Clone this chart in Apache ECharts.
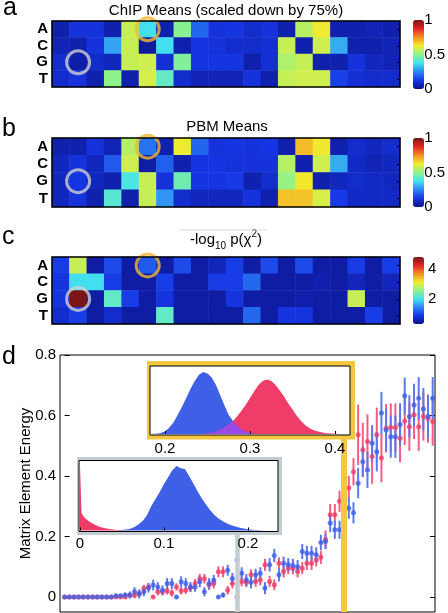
<!DOCTYPE html>
<html><head><meta charset="utf-8">
<script src="https://cdn.jsdelivr.net/npm/echarts@6/dist/echarts.min.js"></script>
<style>html,body{margin:0;padding:0;background:#fff}#c{width:448px;height:613px}</style>
</head><body><div id="c"></div>
<script>
const FONT = '"Liberation Sans", Arial, Helvetica, sans-serif';
// ---------- heatmap data (rows A, C, G, T ; 20 positions) ----------
const bases = ['A', 'C', 'G', 'T'];
const positions = ['1','2','3','4','5','6','7','8','9','10','11','12','13','14','15','16','17','18','19','20'];
const chipMeans = [
  [0.05,0.11,0.11,0.05,0.57,0.37,0.05,0.49,0.20,0.11,0.12,0.09,0.11,0.05,0.55,0.62,0.05,0.05,0.06,0.05],
  [0.06,0.05,0.11,0.29,0.57,0.03,0.37,0.05,0.12,0.11,0.09,0.09,0.10,0.57,0.05,0.58,0.30,0.05,0.05,0.06],
  [0.09,0.04,0.09,0.07,0.57,0.58,0.10,0.48,0.12,0.12,0.12,0.05,0.10,0.54,0.57,0.05,0.05,0.11,0.07,0.06],
  [0.09,0.11,0.05,0.50,0.05,0.59,0.43,0.09,0.06,0.06,0.06,0.11,0.05,0.57,0.58,0.58,0.14,0.10,0.09,0.09]
];
const pbmMeans = [
  [0.05,0.05,0.11,0.06,0.55,0.22,0.05,0.62,0.20,0.11,0.12,0.11,0.12,0.05,0.69,0.63,0.05,0.09,0.07,0.09],
  [0.07,0.11,0.07,0.18,0.58,0.04,0.19,0.05,0.12,0.12,0.11,0.11,0.11,0.55,0.05,0.58,0.30,0.08,0.06,0.07],
  [0.07,0.12,0.07,0.05,0.39,0.57,0.11,0.45,0.12,0.12,0.13,0.05,0.09,0.51,0.63,0.05,0.07,0.09,0.08,0.07],
  [0.07,0.11,0.05,0.41,0.05,0.57,0.27,0.09,0.07,0.07,0.07,0.11,0.05,0.68,0.68,0.59,0.13,0.08,0.08,0.08]
];
const chiSqLogP = [
  [0.90,2.85,0.45,1.00,0.45,1.10,0.45,1.00,0.45,0.60,0.90,0.45,1.00,0.45,1.00,0.45,0.45,0.90,0.45,0.90],
  [0.80,1.95,1.95,0.90,0.45,0.45,0.90,0.45,0.45,0.90,0.90,1.20,0.45,0.45,0.45,0.50,0.45,0.60,0.45,0.60],
  [0.80,4.77,0.45,2.20,0.90,0.45,0.80,0.45,0.45,0.45,0.80,0.45,0.45,0.45,0.50,0.45,0.45,2.85,0.45,0.45],
  [0.70,0.90,0.45,0.70,0.45,0.45,2.20,0.45,0.45,0.45,0.45,1.20,0.45,0.80,0.80,0.45,0.45,0.45,0.90,0.45]
];
const chiRange = [0.29, 4.77];
const meansTicks = [0, 0.5, 1];
const chiTicks = [2, 4];
const circleOrange = [5, 'A'];   // [position index, base]
const circleGray = [1, 'G'];

// ---------- panel d: matrix element energies (80 elements, sorted) ----------
const pbmEnergy = [0,0,0,0,0,0,0,0,0,0,0,0.004,0.004,0.006,0.006,0.017,0.010,0.017,0.030,0.039,
  0.033,0.022,0.044,0.044,0,0.050,0.044,0.033,0.033,0.050,0.017,0.044,0.055,0,0.006,0.088,0.061,0.122,0.078,0.056,
  0.048,0.073,0.078,0.029,0.106,0.137,0.073,0.111,0.106,0.104,0.100,0.150,0.144,0.144,0.139,0.180,0.183,0.244,0.222,0.222,
  0.250,0.293,0.278,0.376,0.447,0.420,0.508,0.480,0.608,0.552,0.530,0.530,0.570,0.665,0.597,0.635,0.657,0.621,0.597,0.657];
const pbmErr = [0,0,0,0,0,0,0,0,0,0,0,0.005,0.005,0.008,0.012,0.015,0.015,0.015,0.016,0.018,
  0.016,0.016,0.018,0.018,0.005,0.018,0.018,0.016,0.016,0.018,0.015,0.018,0.018,0.005,0.008,0.018,0.018,0.022,0.020,0.020,
  0.020,0.020,0.020,0.020,0.022,0.022,0.022,0.022,0.022,0.022,0.022,0.025,0.025,0.025,0.025,0.025,0.025,0.030,0.030,0.030,
  0.030,0.035,0.035,0.050,0.050,0.060,0.060,0.065,0.070,0.070,0.070,0.070,0.070,0.060,0.070,0.070,0.070,0.070,0.070,0.070];
const chipEnergy = [0,0,0,0,0,0,0,0,0,0,0,0,0,0,0.005,0.005,0.011,0.028,0.033,0,
  0.017,0.017,0.020,0.013,0.033,0.020,0.022,0.030,0.044,0.060,0.060,0.039,0.044,0.083,0.083,0.022,0.044,0,0.051,0.048,
  0.073,0.051,0.056,0.106,0.051,0.040,0.111,0.084,0.095,0.095,0.084,0.095,0.111,0.111,0.122,0.131,0.190,0.272,0.272,0.316,
  0.321,0.360,0.414,0.536,0.486,0.514,0.464,0.536,0.459,0.558,0.560,0.560,0.525,0.582,0.563,0.602,0.563,0.597,0.590,0.580];
const chipErr = [0,0,0,0,0,0,0,0,0,0,0,0,0,0.005,0.008,0.010,0.012,0.012,0.012,0.005,
  0.012,0.012,0.012,0.012,0.012,0.012,0.012,0.014,0.015,0.016,0.016,0.016,0.016,0.018,0.018,0.014,0.016,0.005,0.016,0.016,
  0.018,0.018,0.018,0.020,0.018,0.018,0.020,0.020,0.020,0.020,0.020,0.020,0.022,0.022,0.022,0.022,0.030,0.035,0.035,0.035,
  0.035,0.040,0.045,0.100,0.090,0.090,0.090,0.090,0.080,0.080,0.080,0.080,0.080,0.080,0.080,0.080,0.080,0.080,0.080,0.080];
const energyTicks = [0, 0.2, 0.4, 0.6, 0.8];
const grayIndex = 37;    // element circled in gray (G at position 2)
const yellowIndex = 60;  // element circled in orange (A at position 6)

// ---------- inset histograms ----------
const topBins = [0.185,0.19,0.195,0.2,0.205,0.21,0.215,0.22,0.225,0.23,0.235,0.24,0.245,0.25,0.255,0.26,0.265,0.27,0.275,0.28,
  0.285,0.29,0.295,0.3,0.305,0.31,0.315,0.32,0.325,0.33,0.335,0.34,0.345,0.35,0.355,0.36,0.365,0.37,0.375,0.38,
  0.385,0.39,0.395,0.4,0.405,0.41];
const topBlue = [0.2,0.5,1.5,4,9,17,28,40,53,66,78,87,91,89,83,72,57,42,28,19,
  12,7,3.5,1.5,0.5,0,0,0,0,0,0,0,0,0,0,0,0,0,0,0,0,0,0,0,0,0];
const topRed = [0,0,0,0,0,0,0,0,0,0,0,0,0,1,2,3.5,6,10,14,19,
  26,34,43,53,63,72,78,80,78,72,64,55,45,36,27,19,13,8.5,5.5,3.5,2,1.2,0.6,0.3,0.1,0];
const topOverlap = [0,0,0,0,0,0,0,0,0,0,0,0,0,1,2,3.5,6,10,14,19,
  12,7,3.5,1.5,0.5,0,0,0,0,0,0,0,0,0,0,0,0,0,0,0,0,0,0,0,0,0];
const topTicks = [0.2, 0.3, 0.4];
const lowRedBins = [0,0.0012,0.002,0.005,0.01,0.015,0.02,0.025,0.03,0.035,0.04,0.045,0.05,0.055];
const lowRed = [100,100,25,19,14,10,7,4.5,3,2,1.2,0.6,0.2,0];
const lowBlueBins = [0.045,0.05,0.055,0.06,0.065,0.07,0.075,0.08,0.085,0.09,0.095,0.1,0.105,0.11,0.115,0.12,0.125,0.13,0.135,0.14,
  0.145,0.15,0.155,0.16,0.165,0.17,0.175,0.18,0.185,0.19,0.195,0.2,0.205,0.21,0.215,0.22];
const lowBlue = [0.3,0.6,1.2,2.5,5,9,14,22,35,45,55,66,76,86,92,89,88,78,67,56,
  46,37,29,22,17,13,10,7.5,5.5,4,2.8,1.8,1,0.5,0.2,0];
const lowTicks = [0, 0.1, 0.2];

// ---------- styling ----------
const jet = ['#0c1389','#1636e6','#2c86f4','#44e2f0','#8ef38a','#f2ec2e','#f58f22','#e22424','#7c1515'];
const BLUE = '#3f5fe6', RED = '#f03c68', PURPLE = '#9a48e6';
const BLUE_BAR = '#5b79ee', RED_BAR = '#f45c80';
const ORANGE = '#f4b731', GRAYC = '#cfcfcf';
const YELLOW = '#f5c640', GRAYBAR = '#c3ccd0';

function heatData(m) {
  const out = [];
  m.forEach((row, r) => row.forEach((v, c) => out.push([c, r, v])));
  return out;
}
function pairs(xs, ys) { return xs.map((x, i) => [x, ys[i]]); }

const hmTops = [21, 138, 257], hmHeights = [66, 69, 67];
const grids = [], xAxes = [], yAxes = [], series = [], visualMaps = [];
hmTops.forEach((t, k) => grids.push({left: 52, top: t, width: 348, height: hmHeights[k], show: true,
  borderColor: '#000', borderWidth: 1.5, backgroundColor: 'rgba(0,0,0,0)', z: 5}));
const cbTops = [20, 138, 257], cbHeights = [69, 69, 67];
cbTops.forEach((t, k) => grids.push({left: 413, top: t, width: 11, height: cbHeights[k]}));
grids.push({left: 60, top: 355, width: 375, height: 257, show: true, borderColor: '#000', borderWidth: 1});
grids.push({left: 150, top: 366, width: 200, height: 69, show: true, backgroundColor: '#fff', borderColor: '#000', borderWidth: 1, z: 10});
grids.push({left: 79, top: 460.5, width: 199, height: 71, show: true, backgroundColor: '#fff', borderColor: '#000', borderWidth: 1, z: 10});

const lbl = {fontFamily: FONT, fontSize: 15, color: '#000'};
for (let k = 0; k < 3; k++) xAxes.push({gridIndex: k, type: 'category', data: positions, show: false});
for (let k = 0; k < 3; k++) xAxes.push({gridIndex: 3 + k, type: 'value', show: false});
xAxes.push({gridIndex: 6, type: 'value', min: -1, max: 79.5, show: false});
function insetX(grid, min, max, ticks, margin) {
  return {gridIndex: grid, type: 'value', min: min, max: max, z: 12,
    axisLine: {show: false}, splitLine: {show: false},
    axisTick: {show: true, inside: true, length: 3, customValues: ticks, lineStyle: {color: '#000', width: 1}},
    axisLabel: Object.assign({customValues: ticks, margin: margin, hideOverlap: false, formatter: v => String(v)}, lbl)};
}
xAxes.push(insetX(7, 0.1824, 0.4176, topTicks, 6));
xAxes.push(insetX(8, -0.001, 0.2357, lowTicks, 5));

for (let k = 0; k < 3; k++) yAxes.push({gridIndex: k, type: 'category', data: bases, inverse: true, z: 6,
  axisLine: {show: false}, axisTick: {show: false},
  axisLabel: Object.assign({margin: 4, interval: 0, hideOverlap: false, fontWeight: 'bold'}, lbl)});
for (let k = 0; k < 3; k++) yAxes.push({gridIndex: k, type: 'category', data: bases, inverse: true, position: 'right', z: 6,
  axisLine: {show: false}, axisLabel: {show: false, interval: 0},
  axisTick: {show: true, inside: true, length: 3, interval: 0, alignWithLabel: true, lineStyle: {color: '#000', width: 1}}});
const cbRanges = [[0, 1], [0, 1], chiRange], cbTicks = [meansTicks, meansTicks, chiTicks];
for (let k = 0; k < 3; k++) yAxes.push({gridIndex: 3 + k, type: 'value', min: cbRanges[k][0], max: cbRanges[k][1],
  position: 'right', axisLine: {show: false}, axisTick: {show: false}, splitLine: {show: false},
  axisLabel: Object.assign({customValues: cbTicks[k], margin: 4, hideOverlap: false, formatter: v => String(v)}, lbl)});
yAxes.push({gridIndex: 6, type: 'value', min: -0.05, max: 0.8, position: 'left',
  axisLine: {show: false}, splitLine: {show: false},
  axisTick: {show: true, inside: true, length: 5, customValues: energyTicks, lineStyle: {color: '#000'}},
  axisLabel: Object.assign({customValues: energyTicks, margin: 4, hideOverlap: false, formatter: v => String(v)}, lbl),
  name: 'Matrix Element Energy', nameLocation: 'middle', nameGap: 27, nameMoveOverlap: false, nameTextStyle: lbl});
yAxes.push({gridIndex: 6, type: 'value', min: -0.05, max: 0.8, position: 'right',
  axisLine: {show: false}, splitLine: {show: false}, axisLabel: {show: false},
  axisTick: {show: true, inside: true, length: 5, customValues: energyTicks, lineStyle: {color: '#000'}}});
yAxes.push({gridIndex: 7, type: 'value', min: -1.5, max: 100, show: false});
yAxes.push({gridIndex: 8, type: 'value', min: -1.5, max: 100, show: false});

[chipMeans, pbmMeans, chiSqLogP].forEach((m, k) => series.push({
  type: 'heatmap', xAxisIndex: k, yAxisIndex: k, data: heatData(m), z: 2,
  itemStyle: {borderWidth: 0}, emphasis: {disabled: true}}));
[[0, 1], [0, 1], chiRange].forEach((r, k) => visualMaps.push({
  type: 'continuous', seriesIndex: k, min: r[0], max: r[1], dimension: 2,
  show: true, calculable: false, orient: 'vertical', left: 413, top: cbTops[k], padding: 0,
  itemWidth: 11, itemHeight: cbHeights[k], inRange: {color: jet}, textStyle: {color: 'rgba(0,0,0,0)'}}));
for (let k = 0; k < 3; k++) series.push({
  type: 'scatter', xAxisIndex: k, yAxisIndex: k, symbol: 'circle', symbolSize: 23, z: 4, silent: true,
  data: [
    {value: circleOrange, itemStyle: {color: 'rgba(0,0,0,0)', borderColor: ORANGE, borderWidth: 3}},
    {value: circleGray, itemStyle: {color: 'rgba(0,0,0,0)', borderColor: GRAYC, borderWidth: 3}}
  ]});

series.push({type: 'line', xAxisIndex: 6, yAxisIndex: 9, data: [], z: 1, silent: true,
  markLine: {symbol: ['none', 'none'], silent: true, label: {show: false},
    data: [
      [{coord: [grayIndex, -0.05], lineStyle: {color: GRAYBAR, width: 4.5, type: 'solid'}}, {coord: [grayIndex, 0.3]}],
      [{coord: [yellowIndex, -0.05], lineStyle: {color: YELLOW, width: 6, type: 'solid'}}, {coord: [yellowIndex, 0.6]}]
    ]}});
function errSeries(vals, errs, color) {
  return {type: 'custom', xAxisIndex: 6, yAxisIndex: 9, z: 3, silent: true,
    data: vals.map((v, i) => [i, v, errs[i]]),
    encode: {x: 0, y: 1},
    renderItem: (params, api) => {
      const x = api.value(0), y = api.value(1), e = api.value(2);
      const p1 = api.coord([x, y - e]), p2 = api.coord([x, y + e]);
      return {type: 'line', shape: {x1: p1[0], y1: p1[1], x2: p2[0], y2: p2[1]},
        style: {stroke: color, lineWidth: 2}};
    }};
}
function ptSeries(vals, color) {
  return {type: 'scatter', xAxisIndex: 6, yAxisIndex: 9, z: 4, silent: true, symbol: 'circle', symbolSize: 5,
    itemStyle: {color: color}, data: vals.map((v, i) => [i, v])};
}
series.push(errSeries(chipEnergy, chipErr, RED_BAR));
series.push(ptSeries(chipEnergy, RED));
series.push(errSeries(pbmEnergy, pbmErr, BLUE_BAR));
series.push(ptSeries(pbmEnergy, BLUE));

function histSeries(xi, yi, data, color) {
  return {type: 'line', xAxisIndex: xi, yAxisIndex: yi, data: data, z: 11, silent: true,
    symbol: 'none', lineStyle: {width: 0}, areaStyle: {color: color, opacity: 1}};
}
series.push(histSeries(7, 11, pairs(topBins, topBlue), BLUE));
series.push(histSeries(7, 11, pairs(topBins, topRed), RED));
series.push(histSeries(7, 11, pairs(topBins, topOverlap), PURPLE));
series.push(histSeries(8, 12, pairs(lowRedBins, lowRed), RED));
series.push(histSeries(8, 12, pairs(lowBlueBins, lowBlue), BLUE));

const txt = (x, y, text, size, align) => ({type: 'text', x: x, y: y, z: 20,
  style: {text: text, fontFamily: FONT, fontSize: size, fill: '#000', textAlign: align || 'left', textVerticalAlign: 'middle'}});
const graphic = [
  txt(3, 8, 'a', 25), txt(2, 129, 'b', 25), txt(2, 237, 'c', 25), txt(2, 357, 'd', 25),
  txt(226, 11, 'ChIP Means (scaled down by 75%)', 15, 'center'),
  txt(227, 127, 'PBM Means', 15, 'center'),
  {type: 'text', x: 226, y: 240, z: 20, style: {
    text: '{n|-log}{sub|10}{n| p(χ}{sup|2}{n|)}', textAlign: 'center', textVerticalAlign: 'middle', fill: '#000',
    rich: {
      n: {fontFamily: FONT, fontSize: 15, lineHeight: 22, verticalAlign: 'middle', fill: '#000', color: '#000'},
      sub: {fontFamily: FONT, fontSize: 10, lineHeight: 11, verticalAlign: 'bottom', fill: '#000', color: '#000'},
      sup: {fontFamily: FONT, fontSize: 10, lineHeight: 11, verticalAlign: 'top', fill: '#000', color: '#000'}
    }}},
  {type: 'line', z: 20, shape: {x1: 180, y1: 230, x2: 267, y2: 230}, style: {stroke: '#dadada', lineWidth: 1}},
  {type: 'rect', z: 9, silent: true, shape: {x: 147, y: 361, width: 208, height: 78.5}, style: {fill: YELLOW}},
  {type: 'rect', z: 9, silent: true, shape: {x: 77, y: 457, width: 205, height: 78}, style: {fill: GRAYBAR}}
];

const chart = echarts.init(document.getElementById('c'), null, {renderer: 'canvas', width: 448, height: 613});
chart.setOption({
  animation: false, backgroundColor: '#fff', textStyle: {fontFamily: FONT},
  grid: grids, xAxis: xAxes, yAxis: yAxes, visualMap: visualMaps, series: series, graphic: graphic
});
</script></body></html>
